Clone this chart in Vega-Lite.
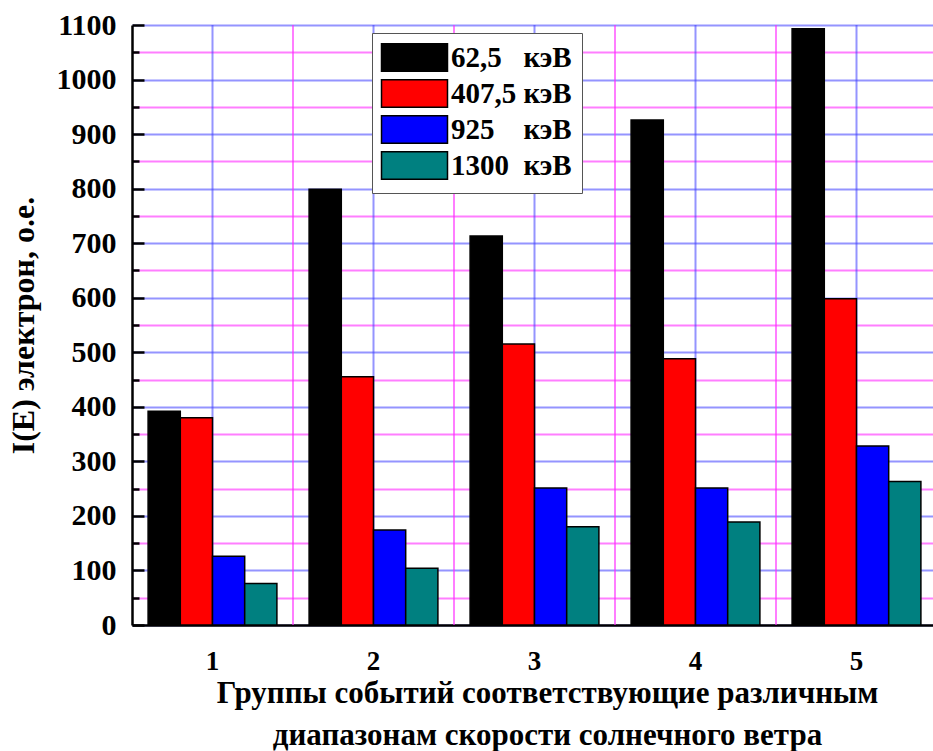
{
  "$schema": "https://vega.github.io/schema/vega-lite/v6.json",
  "autosize": "none",
  "width": 805,
  "height": 600,
  "padding": {"left": 132, "top": 25, "right": 0, "bottom": 126},
  "background": "white",
  "config": {
    "view": {"stroke": null},
    "font": "Liberation Serif"
  },
  "datasets": {
    "bars": [
      {"group": "1", "series": "62,5 кэВ", "value": 392},
      {"group": "1", "series": "407,5 кэВ", "value": 380},
      {"group": "1", "series": "925 кэВ", "value": 126},
      {"group": "1", "series": "1300 кэВ", "value": 76},
      {"group": "2", "series": "62,5 кэВ", "value": 799},
      {"group": "2", "series": "407,5 кэВ", "value": 455},
      {"group": "2", "series": "925 кэВ", "value": 174},
      {"group": "2", "series": "1300 кэВ", "value": 104},
      {"group": "3", "series": "62,5 кэВ", "value": 713},
      {"group": "3", "series": "407,5 кэВ", "value": 515},
      {"group": "3", "series": "925 кэВ", "value": 251},
      {"group": "3", "series": "1300 кэВ", "value": 180},
      {"group": "4", "series": "62,5 кэВ", "value": 926},
      {"group": "4", "series": "407,5 кэВ", "value": 488},
      {"group": "4", "series": "925 кэВ", "value": 251},
      {"group": "4", "series": "1300 кэВ", "value": 189},
      {"group": "5", "series": "62,5 кэВ", "value": 1093},
      {"group": "5", "series": "407,5 кэВ", "value": 598},
      {"group": "5", "series": "925 кэВ", "value": 328},
      {"group": "5", "series": "1300 кэВ", "value": 263}
    ],
    "vgrid": [
      {"g": 1}, {"g": 1.5}, {"g": 2}, {"g": 2.5}, {"g": 3}, {"g": 3.5},
      {"g": 4}, {"g": 4.5}, {"g": 5}, {"g": 5.5}
    ]
  },
  "layer": [
    {
      "data": {"name": "vgrid"},
      "mark": {"type": "rule", "strokeWidth": 2},
      "encoding": {
        "x": {"field": "g", "type": "quantitative", "scale": {"domain": [0.5, 5.5], "nice": false, "zero": false}, "axis": null},
        "color": {
          "condition": {"test": "datum.g % 1 === 0", "value": "rgba(60,60,255,0.55)"},
          "value": "rgba(255,40,255,0.6)"
        }
      }
    },
    {
      "data": {"name": "bars"},
      "mark": {"type": "bar", "stroke": "black", "strokeWidth": 1.5},
      "encoding": {
        "x": {
          "field": "group", "type": "ordinal",
          "scale": {"paddingInner": 0.2, "paddingOuter": 0.1},
          "axis": {
            "title": ["Группы событий соответствующие различным", "диапазонам скорости солнечного ветра"],
            "titleFont": "Liberation Serif", "titleFontWeight": "bold", "titleFontSize": 31,
            "titleLineHeight": 42, "titlePadding": 4, "titleColor": "black",
            "titleX": 415,
            "labelFont": "Liberation Serif", "labelFontWeight": "bold", "labelFontSize": 27,
            "labelAngle": 0, "labelPadding": 23, "labelColor": "black",
            "ticks": false, "grid": false,
            "domainColor": "black", "domainWidth": 2.5
          }
        },
        "xOffset": {
          "field": "series", "type": "nominal",
          "sort": ["62,5 кэВ", "407,5 кэВ", "925 кэВ", "1300 кэВ"],
          "scale": {"paddingInner": 0, "paddingOuter": 0}
        },
        "y": {
          "field": "value", "type": "quantitative",
          "scale": {"domain": [0, 1100], "nice": false},
          "axis": {
            "values": [0, 50, 100, 150, 200, 250, 300, 350, 400, 450, 500, 550, 600, 650, 700, 750, 800, 850, 900, 950, 1000, 1050, 1100],
            "labelExpr": "datum.value % 100 === 0 ? datum.label : ''",
            "format": "d",
            "title": "I(E) электрон, о.е.",
            "titleFont": "Liberation Serif", "titleFontWeight": "bold", "titleFontSize": 32,
            "titlePadding": 16, "titleColor": "black",
            "labelFont": "Liberation Serif", "labelFontWeight": "bold", "labelFontSize": 30,
            "labelPadding": 28, "labelColor": "black",
            "tickColor": "black", "tickWidth": 2.5,
            "tickSize": {"condition": {"test": "datum.value % 100 === 0", "value": -12}, "value": -7},
            "grid": true,
            "gridWidth": 2,
            "gridColor": {"condition": {"test": "datum.value % 100 === 0", "value": "rgba(60,60,255,0.55)"}, "value": "rgba(255,40,255,0.6)"},
            "domainColor": "black", "domainWidth": 2.5
          }
        },
        "color": {
          "field": "series", "type": "nominal",
          "sort": ["62,5 кэВ", "407,5 кэВ", "925 кэВ", "1300 кэВ"],
          "scale": {
            "domain": ["62,5 кэВ", "407,5 кэВ", "925 кэВ", "1300 кэВ"],
            "range": ["#000000", "#ff0000", "#0000ff", "#008080"]
          },
          "legend": {
            "title": null,
            "orient": "none",
            "legendX": 240,
            "legendY": 8,
            "padding": 10,
            "fillColor": "white",
            "strokeColor": "#555555",
            "symbolType": "M-2.4,-1H2.4V1H-2.4Z",
            "symbolSize": 756,
            "symbolOffset": 18,
            "symbolStrokeColor": "black",
            "symbolStrokeWidth": 1.5,
            "symbolOpacity": 1,
            "labelFont": "Liberation Serif", "labelFontWeight": "bold", "labelFontSize": 29,
            "labelColor": "black",
            "labelOffset": 22,
            "rowPadding": 1,
            "labelExpr": "datum.label == '62,5 кэВ' ? '62,5\u00a0\u00a0\u00a0кэВ' : datum.label == '925 кэВ' ? '925\u00a0\u00a0\u00a0\u00a0кэВ' : datum.label == '1300 кэВ' ? '1300\u00a0\u00a0кэВ' : datum.label"
          }
        }
      }
    }
  ],
  "resolve": {"scale": {"x": "independent"}, "axis": {"x": "independent"}}
}
